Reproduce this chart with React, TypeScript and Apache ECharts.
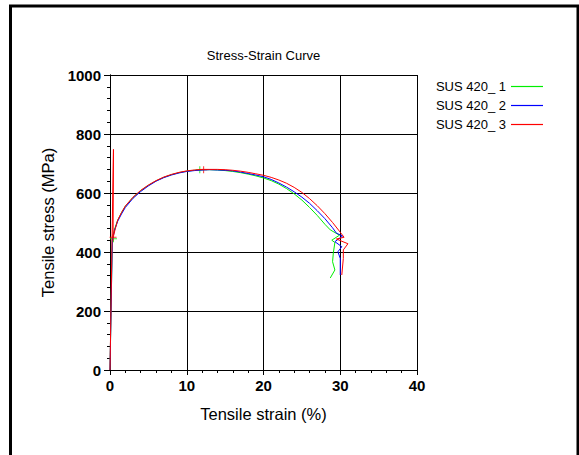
import React, { useEffect, useRef } from "react";
import * as echarts from "echarts";

const seriesNames = ["SUS 420_ 1", "SUS 420_ 2", "SUS 420_ 3"];
const seriesColors = ["#00ee00", "#0000ff", "#ff0000"];

// [strain %, stress MPa]
const green: number[][] = [
  [0, 0], [0.3, 445], [0.6, 478], [1, 508], [1.5, 533], [2, 555], [3, 585], [4, 608], [5, 626],
  [6, 641], [7, 653], [8, 662], [9, 669], [10, 674], [11, 677], [12, 679], [13, 679], [14, 678],
  [15, 676], [16, 673], [17, 669], [18, 664], [19, 658], [20, 651], [21, 642], [22, 630], [23, 615],
  [24, 597], [25, 576], [26, 551], [27, 524], [28, 494], [28.7, 475], [29.9, 457], [28.9, 440],
  [29.3, 432], [29.1, 397], [29.0, 367], [29.3, 339], [28.7, 312],
];
const blue: number[][] = [
  [0, 0], [0.3, 440], [0.6, 474], [1, 504], [1.5, 529], [2, 551], [3, 582], [4, 605], [5, 624],
  [6, 640], [7, 652], [8, 661], [9, 668], [10, 673], [11, 676], [12, 678], [13, 679], [14, 678],
  [15, 677], [16, 675], [17, 671], [18, 666], [19, 661], [20, 655], [21, 646], [22, 634], [23, 620],
  [24, 604], [25, 586], [26, 565], [27, 540], [28, 513], [29, 482], [29.5, 464], [30.3, 454],
  [29.3, 435], [30.2, 418], [29.7, 401], [30.0, 378], [30.0, 322],
];
const red: number[][] = [
  [0, 0], [0.45, 748], [0.4, 448], [0.7, 480], [1, 508], [1.5, 534], [2, 556], [3, 586], [4, 609],
  [5, 627], [6, 642], [7, 654], [8, 663], [9, 670], [10, 675], [11, 678], [12, 680], [13, 680],
  [14, 680], [15, 679], [16, 677], [17, 674], [18, 670], [19, 665], [20, 660], [21, 653], [22, 644],
  [23, 633], [24, 619], [25, 602], [26, 581], [27, 557], [28, 530], [29, 500], [30, 467],
  [30.5, 450], [29.5, 444], [31, 428], [30.4, 407], [30.4, 378], [30.2, 322],
];
const greenMarks: number[][] = [[0.45, 445], [11.7, 679]];
const redMarks: number[][] = [[0.4, 450], [12.2, 679]];

const xTicks = [0, 40, 10];
const yTicks = [0, 1000, 200];

const FONT = "'Liberation Sans', Arial, sans-serif";
const PLUS = "path://M3,0H4V3H7V4H4V7H3V4H0V3H3Z";
const LINE_ICON = "path://M0,0H32V1.2H0Z";

export default function App() {
  const ref = useRef<HTMLDivElement>(null);
  useEffect(() => {
    if (!ref.current) return;
    const chart = echarts.init(ref.current, undefined, { renderer: "svg" });
    const axisLine = { show: true, lineStyle: { color: "#000", width: 1 } };
    const baseX = { type: "value", min: xTicks[0], max: xTicks[1], interval: xTicks[2] };
    const baseY = { type: "value", min: yTicks[0], max: yTicks[1], interval: yTicks[2] };
    const plain = (v: number) => String(v);
    chart.setOption({
      animation: false,
      textStyle: { fontFamily: FONT },
      grid: { left: 110, top: 75, width: 307, height: 295, containLabel: false },
      legend: {
        data: seriesNames.map((n) => ({ name: n, icon: LINE_ICON })),
        orient: "vertical",
        right: 31,
        top: 75,
        align: "right",
        itemWidth: 32,
        itemHeight: 14,
        itemGap: 6,
        textStyle: { fontSize: 13, color: "#000", fontFamily: FONT, padding: [0, 0, 0, 0] },
      },
      graphic: [
        {
          type: "rect",
          shape: { x: 10.5, y: 6, width: 567.5, height: 470 },
          style: { fill: "none", stroke: "#000", lineWidth: 3 },
          silent: true,
        },
        {
          type: "text",
          x: 263.5,
          y: 55,
          style: {
            text: "Stress-Strain Curve",
            fontSize: 13,
            fontFamily: FONT,
            fill: "#000",
            textAlign: "center",
            textVerticalAlign: "middle",
          },
        },
      ],
      xAxis: [
        {
          ...baseX,
          position: "bottom",
          name: "Tensile strain (%)",
          nameLocation: "middle",
          nameGap: 35,
          nameTextStyle: { fontSize: 16.5, color: "#000", fontFamily: FONT },
          axisLine,
          axisTick: { show: true, inside: false, length: 5, lineStyle: { color: "#000" } },
          minorTick: { show: true, splitNumber: 5, length: 3, lineStyle: { color: "#000" } },
          axisLabel: { fontSize: 15, fontWeight: "bold", color: "#000", margin: 8, fontFamily: FONT, formatter: plain },
          splitLine: { show: true, lineStyle: { color: "#000", width: 1 } },
        },
        {
          ...baseX,
          position: "top",
          axisLine,
          axisTick: { show: true, inside: true, length: 3, lineStyle: { color: "#000" } },
          minorTick: { show: true, splitNumber: 5, length: 2, lineStyle: { color: "#000" } },
          axisLabel: { show: false },
          splitLine: { show: false },
        },
      ],
      yAxis: [
        {
          ...baseY,
          position: "left",
          name: "Tensile stress (MPa)",
          nameLocation: "middle",
          nameGap: 49,
          nameRotate: 90,
          nameTextStyle: { fontSize: 16.5, color: "#000", fontFamily: FONT },
          axisLine,
          axisTick: { show: true, inside: false, length: 6, lineStyle: { color: "#000" } },
          minorTick: { show: true, splitNumber: 5, length: 3, lineStyle: { color: "#000" } },
          axisLabel: { fontSize: 15, fontWeight: "bold", color: "#000", margin: 9, fontFamily: FONT, formatter: plain },
          splitLine: { show: true, lineStyle: { color: "#000", width: 1 } },
        },
        {
          ...baseY,
          position: "right",
          axisLine,
          axisTick: { show: true, inside: true, length: 3, lineStyle: { color: "#000" } },
          minorTick: { show: true, splitNumber: 5, length: 2, lineStyle: { color: "#000" } },
          axisLabel: { show: false },
          splitLine: { show: false },
        },
      ],
      series: [
        ...[green, blue, red].map((d, i) => ({
          name: seriesNames[i],
          type: "line",
          data: d,
          symbol: "none",
          color: seriesColors[i],
          lineStyle: { color: seriesColors[i], width: 1 },
          silent: true,
        })),
        {
          name: "marks1",
          type: "scatter",
          data: greenMarks,
          symbol: PLUS,
          symbolSize: 7,
          itemStyle: { color: seriesColors[0] },
          silent: true,
        },
        {
          name: "marks3",
          type: "scatter",
          data: redMarks,
          symbol: PLUS,
          symbolSize: 7,
          itemStyle: { color: seriesColors[2] },
          silent: true,
        },
      ],
    });
    return () => chart.dispose();
  }, []);
  return (
    <div
      ref={ref}
      style={{ position: "absolute", left: 0, top: 0, width: 579, height: 455, background: "#fff" }}
    />
  );
}
